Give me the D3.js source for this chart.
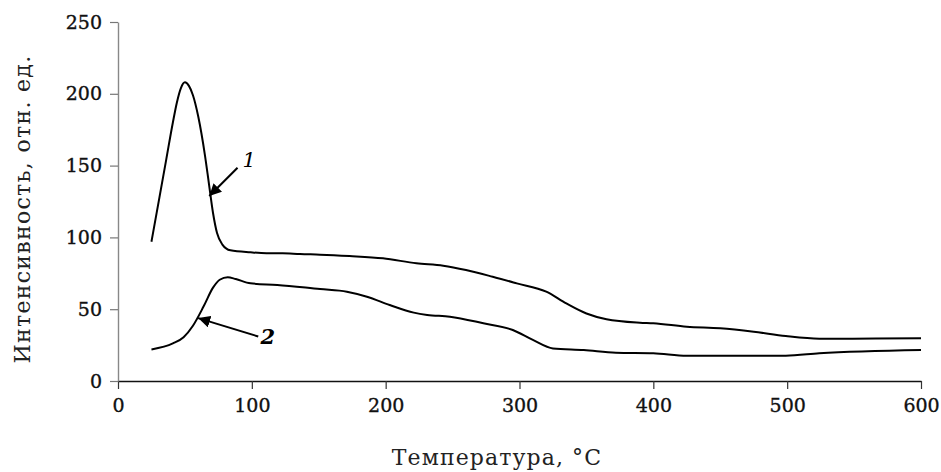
<!DOCTYPE html>
<html>
<head>
<meta charset="utf-8">
<script src="https://cdn.jsdelivr.net/npm/d3@7"></script>
<style>
  body { margin: 0; background: #fff; }
  svg { display: block; font-family: "DejaVu Serif", "Liberation Serif", serif; }
</style>
</head>
<body>
<svg id="chart"></svg>
<script>
const width = 941;
const height = 472;
const margin = { top: 22, right: 20, bottom: 91, left: 118 };

// curve 1
const temp1 = [25, 31, 36, 41, 44, 47, 50, 53, 56, 60, 65, 68, 71, 74, 78, 84, 99, 111, 123, 136, 151, 173, 198, 223, 243, 260, 280, 298, 320, 335, 350, 365, 390, 400, 425, 450, 475, 499, 524, 549, 600];
const int1 = [97, 128, 154, 180, 194, 204, 208, 205.5, 199, 184, 157, 137, 117, 103, 95, 91, 89.6, 89, 89, 88.4, 88, 87, 85.4, 82, 80.3, 77.3, 72.6, 68, 62.2, 54, 47, 43, 40.6, 40.2, 37.8, 36.7, 34.3, 31.3, 29.5, 29.5, 29.7];

// curve 2
const temp2 = [25, 41, 49, 56, 64, 71, 76, 82, 88, 99, 119, 151, 171, 186, 203, 221, 231, 248, 273, 295, 310, 325, 348, 372, 400, 425, 450, 499, 524, 600];
const int2 = [22, 26.2, 30.5, 38.5, 52, 65, 70.5, 72.3, 71, 68, 66.9, 64, 62.2, 58.7, 52.9, 47.6, 46, 44.8, 40.2, 35.5, 28.6, 22.7, 21.6, 19.7, 19.3, 17.6, 17.6, 17.6, 19.3, 21.6];

const xTicks = [0, 100, 200, 300, 400, 500, 600];
const yTicks = [0, 50, 100, 150, 200, 250];

// arrows: label, tail [x, y], tip [x, y], label position [x, y]
const notes = [
  { label: "1", tail: [89.3, 148.5], tip: [68.2, 128.8], at: [98, 149] },
  { label: "2", tail: [104.8, 31], tip: [59.9, 43.8], at: [112, 25.5] }
];

const svg = d3.select("#chart")
  .attr("width", width)
  .attr("height", height);

const x = d3.scaleLinear()
  .domain([0, 600])
  .range([margin.left, width - margin.right]);

const y = d3.scaleLinear()
  .domain([0, 250])
  .range([height - margin.bottom, margin.top]);

// x axis
const gx = svg.append("g")
  .attr("transform", `translate(0, ${y(0)})`)
  .call(d3.axisBottom(x).tickValues(xTicks).tickSize(8).tickSizeOuter(0).tickPadding(10));
gx.select(".domain").attr("stroke", "#111").attr("stroke-width", 1.3);
gx.selectAll(".tick line").attr("stroke", "#333").attr("stroke-width", 1.2);
gx.selectAll(".tick text")
  .attr("font-size", 19).attr("font-family", "DejaVu Serif")
  .attr("fill", "#111").attr("stroke", "#111").attr("stroke-width", 0.35);

// y axis
const gy = svg.append("g")
  .attr("transform", `translate(${x(0)}, 0)`)
  .call(d3.axisLeft(y).tickValues(yTicks).tickSize(8).tickSizeOuter(0).tickPadding(8));
gy.select(".domain").attr("stroke", "#888").attr("stroke-width", 1.4);
gy.selectAll(".tick line").attr("stroke", "#777").attr("stroke-width", 1.2);
gy.selectAll(".tick text")
  .attr("font-size", 19).attr("font-family", "DejaVu Serif")
  .attr("fill", "#111").attr("stroke", "#111").attr("stroke-width", 0.35);

// titles
svg.append("text")
  .attr("x", 497)
  .attr("y", 465)
  .attr("text-anchor", "middle")
  .attr("font-size", 22)
  .attr("letter-spacing", 1.1)
  .attr("fill", "#222")
  .text("Температура, °С");

svg.append("text")
  .attr("transform", "translate(30, 209) rotate(-90)")
  .attr("text-anchor", "middle")
  .attr("font-size", 22)
  .attr("letter-spacing", 1.3)
  .attr("fill", "#222")
  .text("Интенсивность, отн. ед.");

// curves
const line = d3.line()
  .x(d => x(d[0]))
  .y(d => y(d[1]))
  .curve(d3.curveMonotoneX);

[[temp1, int1], [temp2, int2]].forEach(([t, v]) => {
  svg.append("path")
    .datum(d3.zip(t, v))
    .attr("fill", "none")
    .attr("stroke", "#000")
    .attr("stroke-width", 2)
    .attr("d", line);
});

// arrows
svg.append("defs").append("marker")
  .attr("id", "head")
  .attr("viewBox", "0 0 10 10")
  .attr("refX", 10)
  .attr("refY", 5)
  .attr("markerWidth", 6)
  .attr("markerHeight", 6)
  .attr("markerUnits", "strokeWidth")
  .attr("orient", "auto")
  .append("path")
  .attr("d", "M0,0 L10,5 L0,10 Z")
  .attr("fill", "#000");

notes.forEach(n => {
  svg.append("line")
    .attr("x1", x(n.tail[0]))
    .attr("y1", y(n.tail[1]))
    .attr("x2", x(n.tip[0]))
    .attr("y2", y(n.tip[1]))
    .attr("stroke", "#000")
    .attr("stroke-width", 2)
    .attr("marker-end", "url(#head)");
  svg.append("text")
    .attr("x", x(n.at[0]))
    .attr("y", y(n.at[1]))
    .attr("text-anchor", "middle")
    .attr("font-size", 21)
    .attr("font-style", "italic")
    .attr("font-weight", n.label === "2" ? "bold" : "normal")
    .attr("fill", "#000")
    .text(n.label);
});
</script>
</body>
</html>
